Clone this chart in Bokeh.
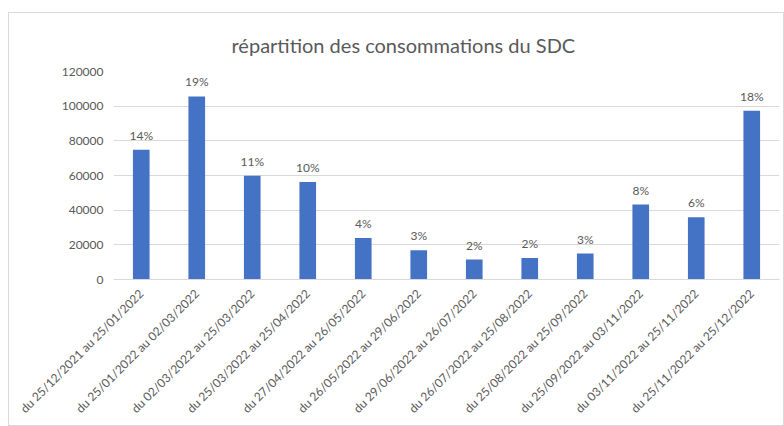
from bokeh.plotting import figure
from bokeh.models import ColumnDataSource, LabelSet, FactorRange, Range1d, FixedTicker, Title, BasicTickFormatter
from bokeh.core.properties import value
from bokeh.embed import file_html
from bokeh.resources import INLINE
import math

periods = [
    "du 25/12/2021 au 25/01/2022",
    "du 25/01/2022 au 02/03/2022",
    "du 02/03/2022 au 25/03/2022",
    "du 25/03/2022 au 25/04/2022",
    "du 27/04/2022 au 26/05/2022",
    "du 26/05/2022 au 29/06/2022",
    "du 29/06/2022 au 26/07/2022",
    "du 26/07/2022 au 25/08/2022",
    "du 25/08/2022 au 25/09/2022",
    "du 25/09/2022 au 03/11/2022",
    "du 03/11/2022 au 25/11/2022",
    "du 25/11/2022 au 25/12/2022",
]
consommations = [74900, 105600, 59900, 56200, 24000, 16900, 11500, 12400, 15000, 43200, 35900, 97300]
pourcentages = ["14%", "19%", "11%", "10%", "4%", "3%", "2%", "2%", "3%", "8%", "6%", "18%"]
y_ticks = [0, 20000, 40000, 60000, 80000, 100000, 120000]

FONT = "Lato"
GREY = "#595959"

src = ColumnDataSource(data=dict(x=periods, y=consommations, lab=pourcentages))

p = figure(
    width=776, height=414,
    x_range=FactorRange(*periods, range_padding=0),
    y_range=Range1d(0, 120000),
    output_backend="svg", toolbar_location=None,
    min_border_left=104, min_border_right=6, min_border_top=58, min_border_bottom=148,
)
p.styles = {"border": "1px solid #D9D9D9", "margin-left": "8px", "margin-top": "12px"}

t = Title(text="répartition des consommations du SDC", align="left", offset=118,
          vertical_align="top",
          text_font=FONT, text_font_size="20px", text_color=GREY, text_font_style="normal",
          standoff=26)
p.add_layout(t, "above")

p.vbar(x="x", top="y", width=0.3, source=src, color="#4472C4", line_color=None)

labels = LabelSet(x="x", y="y", text="lab", source=src, text_align="center",
                  text_baseline="bottom", y_offset=7, text_font=value(FONT),
                  text_font_size=value("12px"), text_color=GREY)
p.add_layout(labels)

p.outline_line_color = None
p.xgrid.grid_line_color = None
p.ygrid.grid_line_color = "#D9D9D9"
p.ygrid.ticker = FixedTicker(ticks=y_ticks)

p.yaxis.ticker = FixedTicker(ticks=y_ticks)
p.yaxis.formatter = BasicTickFormatter(use_scientific=False)
p.yaxis.axis_line_color = None
p.yaxis.major_tick_line_color = None
p.yaxis.minor_tick_line_color = None
p.yaxis.major_label_text_font = FONT
p.yaxis.major_label_text_font_size = "12px"
p.yaxis.major_label_text_color = GREY
p.yaxis.major_label_standoff = 4

p.xaxis.axis_line_color = "#D9D9D9"
p.xaxis.major_tick_line_color = None
p.xaxis.minor_tick_line_color = None
p.xaxis.major_label_orientation = math.pi / 4
p.xaxis.major_label_text_font = FONT
p.xaxis.major_label_text_font_size = "12px"
p.xaxis.major_label_text_color = GREY
p.xaxis.major_label_standoff = 6

open("out.html", "w").write(file_html(p, INLINE))
